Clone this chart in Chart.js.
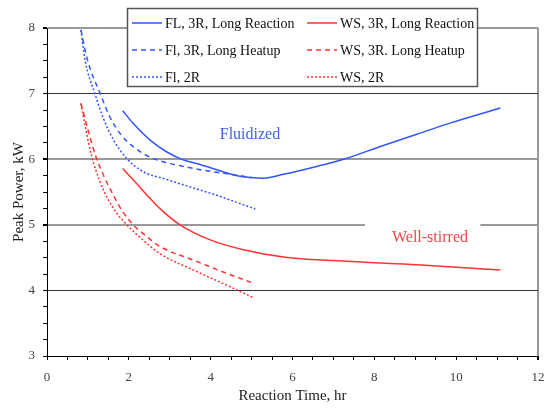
<!DOCTYPE html>
<html>
<head>
<meta charset="utf-8">
<script src="https://cdn.jsdelivr.net/npm/chart.js@4"></script>
<style>
  html, body { margin: 0; padding: 0; background: #fff; }
  #wrap { width: 547px; height: 408px; }
</style>
</head>
<body>
<div id="wrap"><canvas id="peak-chart" width="547" height="408"></canvas></div>
<script>
// Reaction time (hr) and peak power (kW)
const flReactionT = [1.85, 2.1, 2.52, 2.93, 3.33, 3.74, 4.15, 4.56, 4.96, 5.3, 5.78, 6.59, 7.25, 8.22, 9.04, 9.85, 11.08];
const flReactionP = [6.74, 6.55, 6.29, 6.11, 5.99, 5.92, 5.84, 5.76, 5.72, 5.71, 5.77, 5.89, 6.0, 6.21, 6.38, 6.55, 6.78];

const flHeatupT = [0.83, 0.99, 1.3, 1.54, 1.8, 2.11, 2.52, 2.9, 3.33, 3.74, 4.15, 4.6, 5.0];
const flHeatupP = [7.97, 7.51, 7.0, 6.64, 6.38, 6.19, 6.03, 5.95, 5.89, 5.84, 5.8, 5.76, 5.72];

const fl2RT = [0.83, 0.93, 1.17, 1.38, 1.62, 1.95, 2.35, 2.93, 3.33, 3.74, 4.15, 4.6, 5.09];
const fl2RP = [7.97, 7.51, 7.0, 6.62, 6.3, 6.01, 5.81, 5.69, 5.61, 5.53, 5.45, 5.35, 5.24];

const wsReactionT = [1.85, 2.19, 2.52, 2.84, 3.25, 3.99, 4.8, 5.78, 7.41, 9.04, 11.08];
const wsReactionP = [5.86, 5.63, 5.4, 5.2, 5.0, 4.77, 4.62, 4.51, 4.44, 4.39, 4.31];

const wsHeatupT = [0.83, 1.0, 1.19, 1.42, 1.65, 1.85, 2.11, 2.4, 2.76, 3.58, 4.39, 5.0];
const wsHeatupP = [6.85, 6.45, 6.05, 5.7, 5.42, 5.2, 5.0, 4.84, 4.67, 4.46, 4.26, 4.12];

const ws2RT = [0.83, 0.95, 1.09, 1.3, 1.5, 1.7, 1.95, 2.36, 2.76, 3.58, 4.39, 5.04];
const ws2RP = [6.85, 6.45, 6.05, 5.65, 5.38, 5.18, 5.0, 4.76, 4.56, 4.31, 4.08, 3.89];

const BLUE = '#3355ff';
const RED = '#ff3333';
const SERIF = '"Liberation Serif", "Times New Roman", serif';

const toPoints = (xs, ys) => xs.map((x, i) => ({ x: x, y: ys[i] }));

function series(label, xs, ys, color, dash) {
    return {
        label: label,
        data: toPoints(xs, ys),
        borderColor: color,
        backgroundColor: color,
        borderWidth: 1.5,
        borderDash: dash,
        showLine: true,
        pointRadius: 0,
        fill: false,
        cubicInterpolationMode: 'monotone'
    };
}

// legend drawn as a boxed two-column table like the original
const boxLegend = {
    id: 'boxLegend',
    afterDraw(chart) {
        const c = chart.ctx;
        c.save();
        c.fillStyle = '#fff';
        c.fillRect(127, 8, 350, 78);
        c.strokeStyle = '#555';
        c.lineWidth = 1.5;
        c.strokeRect(127.5, 8.5, 350, 78);
        c.font = '14px ' + SERIF;
        c.textBaseline = 'middle';
        c.fillStyle = '#111';
        chart.data.datasets.forEach((ds, i) => {
            const x0 = i < 3 ? 132 : 307;
            const y = 23 + (i % 3) * 27;
            c.strokeStyle = ds.borderColor;
            c.lineWidth = ds.borderWidth;
            c.setLineDash(ds.borderDash || []);
            c.beginPath();
            c.moveTo(x0, y);
            c.lineTo(x0 + 30, y);
            c.stroke();
            c.setLineDash([]);
            c.fillText(ds.label, x0 + 33, y + 1);
        });
        c.restore();
    }
};

// "Fluidized" / "Well-stirred" notes placed by data coordinates
const notes = {
    id: 'notes',
    beforeDatasetsDraw(chart) {
        const c = chart.ctx;
        const xs = chart.scales.x, ys = chart.scales.y;
        c.save();
        c.fillStyle = '#fff';
        const bx0 = xs.getPixelForValue(7.77), bx1 = xs.getPixelForValue(10.59);
        c.fillRect(bx0, ys.getPixelForValue(5.09), bx1 - bx0, ys.getPixelForValue(4.5) - ys.getPixelForValue(5.09));
        c.font = '16px ' + SERIF;
        c.textAlign = 'center';
        c.textBaseline = 'middle';
        c.fillStyle = '#3d63e8';
        c.fillText('Fluidized', xs.getPixelForValue(4.96), ys.getPixelForValue(6.37));
        c.fillStyle = '#f04848';
        c.fillText('Well-stirred', xs.getPixelForValue(9.36), ys.getPixelForValue(4.8));
        c.restore();
    }
};

const ctx = document.getElementById('peak-chart').getContext('2d');

const chart = new Chart(ctx, {
    type: 'scatter',
    data: {
        datasets: [
            series('FL, 3R, Long Reaction', flReactionT, flReactionP, BLUE, []),
            series('Fl, 3R, Long Heatup', flHeatupT, flHeatupP, BLUE, [5, 4]),
            series('Fl, 2R', fl2RT, fl2RP, BLUE, [2, 2]),
            series('WS, 3R, Long Reaction', wsReactionT, wsReactionP, RED, []),
            series('WS, 3R. Long Heatup', wsHeatupT, wsHeatupP, RED, [5, 4]),
            series('WS, 2R', ws2RT, ws2RP, RED, [2, 2])
        ]
    },
    options: {
        responsive: false,
        animation: false,
        layout: { padding: { top: 28, right: 9, left: 0, bottom: 0 } },
        plugins: {
            legend: { display: false },
            tooltip: { enabled: false }
        },
        scales: {
            x: {
                type: 'linear',
                min: 0,
                max: 12,
                afterFit: (s) => { s.height = 52; s.paddingRight = 0; s.paddingLeft = 0; },
                border: { color: '#000', width: 1 },
                grid: {
                    drawOnChartArea: true,
                    color: (c) => (c.tick && c.tick.value === 12 ? '#999' : 'rgba(0,0,0,0)'),
                    lineWidth: (c) => (c.tick && c.tick.value === 12 ? 2 : 1),
                    tickColor: '#000',
                    tickLength: 4
                },
                ticks: {
                    stepSize: 0.5,
                    autoSkip: false,
                    maxRotation: 0,
                    padding: 10,
                    color: '#444',
                    font: { family: SERIF, size: 13 },
                    callback: (v) => (v % 2 === 0 ? String(v) : '')
                },
                title: {
                    display: true,
                    text: 'Reaction Time, hr',
                    color: '#222',
                    font: { family: SERIF, size: 15 },
                    padding: { top: 0, bottom: 3 }
                }
            },
            y: {
                min: 3,
                max: 8,
                afterFit: (s) => { s.width = 47; },
                border: { color: '#000', width: 1 },
                grid: {
                    color: (c) => {
                        const v = c.tick ? c.tick.value : 0;
                        if (v === 4 || v === 7) return '#333';
                        if (v === 5 || v === 6 || v === 8) return '#999';
                        return 'rgba(0,0,0,0)';
                    },
                    lineWidth: (c) => {
                        const v = c.tick ? c.tick.value : 0;
                        return (v === 5 || v === 6 || v === 8) ? 2 : 1;
                    },
                    tickColor: '#000',
                    tickLength: 4
                },
                ticks: {
                    stepSize: 0.25,
                    autoSkip: false,
                    padding: 8,
                    color: '#444',
                    font: { family: SERIF, size: 13 },
                    callback: (v) => (Number.isInteger(v) ? String(v) : '')
                },
                title: {
                    display: true,
                    text: 'Peak Power, kW',
                    color: '#222',
                    font: { family: SERIF, size: 15 },
                    padding: { top: 10, bottom: 0 }
                }
            }
        }
    },
    plugins: [notes, boxLegend]
});
</script>
</body>
</html>
